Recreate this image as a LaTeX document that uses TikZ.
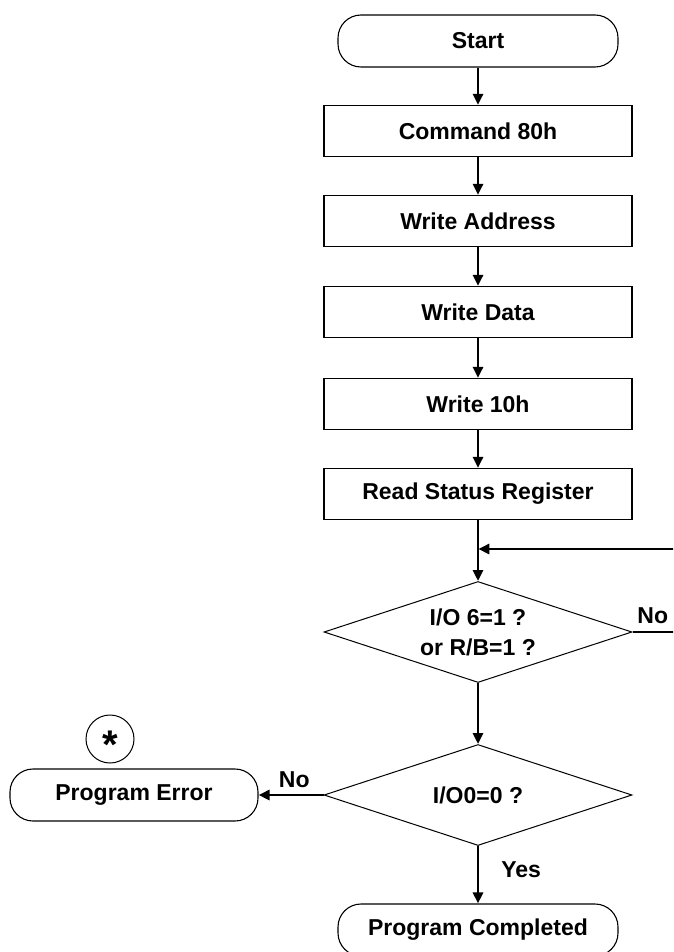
\documentclass[tikz,border=0pt]{standalone}
\usepackage{fontspec}
\setmainfont{Liberation Sans}
\usetikzlibrary{arrows.meta,shapes.geometric}
\begin{document}
\begin{tikzpicture}[x=1pt,y=-1pt,
  every node/.style={font=\fontsize{23}{30}\selectfont\bfseries, inner sep=0pt},
  box/.style={draw, line width=1.2pt, minimum width=308pt, minimum height=51pt},
  term/.style={draw, line width=1.1pt, rounded corners=23pt, minimum width=280pt, minimum height=52pt},
  dec/.style={draw, line width=1pt, diamond, aspect=3, minimum width=308pt, minimum height=101pt, align=center},
  arr/.style={line width=2.7pt, -{Triangle[length=11pt,width=10pt]}},
  thinline/.style={line width=1.3pt},
  lbl/.style={anchor=base}
]
\useasboundingbox (0,0) rectangle (673,952);
\fill[white] (0,0) rectangle (673,952);
\clip (0,0) rectangle (673,952);

\node[term] (start) at (478,41) {Start};
\node[box] (cmd) at (478,131) {Command 80h};
\node[box] (addr) at (478,221) {Write Address};
\node[box] (data) at (478,312) {Write Data};
\node[box] (w10) at (478,404) {Write 10h};
\node[box] (rsr) at (478,494) {Read Status Register};
\coordinate (merge) at (478,549);
\node[dec] (d1) at (478,632) {I/O 6=1 ?\\or R/B=1 ?};
\node[dec] (d2) at (478,795) {I/O0=0 ?};
\node[term, minimum width=248pt] (err) at (134,795) {Program Error};
\node[term] (comp) at (478,930) {Program Completed};
\node[draw, circle, line width=1pt, minimum size=48pt,
      font=\fontsize{40}{40}\selectfont\bfseries] (star) at (110,739)
      {\raisebox{-19pt}[0pt][0pt]{*}};

\coordinate (rt1) at (700,632);
\coordinate (rt2) at (700,549);

\draw[arr] (start.south) -- (cmd.north);
\draw[arr] (cmd.south) -- (addr.north);
\draw[arr] (addr.south) -- (data.north);
\draw[arr] (data.south) -- (w10.north);
\draw[arr] (w10.south) -- (rsr.north);
\draw[arr] (rsr.south) -- (d1.north);
\draw[arr] (d1.south) -- (d2.north);
\draw[arr] (d2.south) -- node[pos=0.55, anchor=base west, xshift=22pt] {Yes} (comp.north);
\draw[arr] (d2.west) -- node[pos=0.45, lbl, yshift=8pt] {No} (err.east);
\draw[thinline] (d1.east) -- node[pos=0.3, lbl, yshift=9pt] {No} (rt1);
\draw[arr, shorten >=-1pt] (rt2) -- ([xshift=1.3pt]merge);
\end{tikzpicture}
\end{document}
